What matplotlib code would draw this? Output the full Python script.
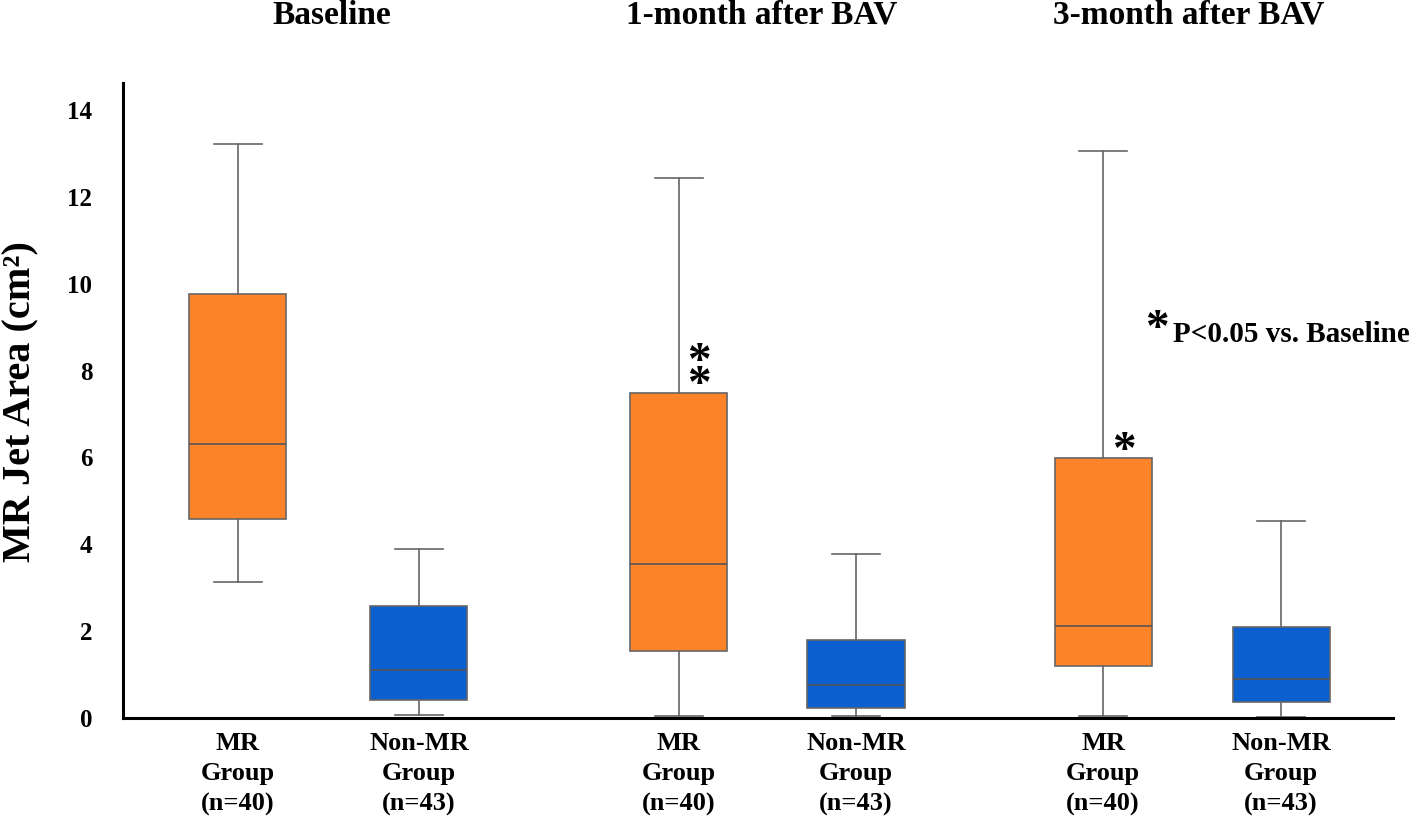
import matplotlib
matplotlib.use("Agg")
import matplotlib.pyplot as plt
from matplotlib.transforms import blended_transform_factory

plt.rcParams['font.family'] = ['Liberation Serif', 'DejaVu Serif']
plt.rcParams['font.weight'] = 'bold'

# Data
timepoints = ["Baseline", "1-month after BAV", "3-month after BAV"]
groups = ["MR\nGroup\n(n=40)", "Non-MR\nGroup\n(n=43)"]
whislo = [3.13, 0.07, 0.05, 0.05, 0.05, 0.02]
q1     = [4.58, 0.41, 1.54, 0.23, 1.20, 0.37]
med    = [6.31, 1.10, 3.55, 0.76, 2.12, 0.90]
q3     = [9.76, 2.58, 7.48, 1.80, 5.99, 2.10]
whishi = [13.22, 3.89, 12.43, 3.78, 13.06, 4.54]
yticks = [0, 2, 4, 6, 8, 10, 12, 14]

# Layout
positions = [1.15, 2.96, 5.56, 7.33, 9.80, 11.58]
title_x = [2.09, 6.39, 10.66]
colors = ["#FF8329", "#0B5FCE"] * 3

fig = plt.figure(figsize=(14.18, 8.23), dpi=100)
ax = fig.add_axes([0.0867, 0.1276, 0.8957, 0.7715])

stats = []
for i in range(6):
    stats.append(dict(whislo=whislo[i], q1=q1[i], med=med[i], q3=q3[i],
                      whishi=whishi[i], fliers=[], label=groups[i % 2]))

bp = ax.bxp(stats, positions=positions, widths=0.97, patch_artist=True,
            showfliers=False,
            boxprops=dict(edgecolor="#666666", linewidth=1.2),
            medianprops=dict(color="#555555", linewidth=1.2),
            whiskerprops=dict(color="#666666", linewidth=1.2),
            capprops=dict(color="#666666", linewidth=1.2),
            capwidths=0.48)
for patch, c in zip(bp['boxes'], colors):
    patch.set_facecolor(c)

ax.set_xlim(0, 12.7)
ax.set_ylim(0, 14.62)
ax.set_yticks(yticks)
ax.set_yticklabels([str(t) for t in yticks], fontsize=18, fontweight='bold')
ax.tick_params(axis='y', length=0, pad=22)
ax.tick_params(axis='x', length=0, pad=10)
ax.set_xticks(positions)
ax.set_xticklabels([groups[i % 2] for i in range(6)], fontsize=19,
                   fontweight='bold', linespacing=1.4)
for s in ['top', 'right']:
    ax.spines[s].set_visible(False)
ax.spines['left'].set_linewidth(2.2)
ax.spines['bottom'].set_linewidth(2.2)

fig.text(0.0145, 0.5115, "MR Jet Area (cm\u00b2)", fontsize=29,
         fontweight='bold', rotation=90, ha='center', va='center')

trans = blended_transform_factory(ax.transData, fig.transFigure)
for k, t in enumerate(timepoints):
    ax.text(title_x[k], 0.971, t, transform=trans, ha='center', va='baseline',
            fontsize=24, fontweight='bold')

# significance asterisks
ax.text(positions[2] + 0.20, q3[2] - 0.32, "*\n*", fontsize=34, ha='center',
        va='bottom', fontweight='bold', linespacing=0.4)
ax.text(positions[4] + 0.21, q3[4] - 0.35, "*", fontsize=34, ha='center',
        va='bottom', fontweight='bold')

ax.text(10.34, 8.45, "*", fontsize=34, ha='center', va='bottom', fontweight='bold')
ax.text(10.50, 8.82, "P<0.05 vs. Baseline", fontsize=21, ha='left', va='center',
        fontweight='bold', clip_on=False)

fig.savefig("out.png", dpi=100)
